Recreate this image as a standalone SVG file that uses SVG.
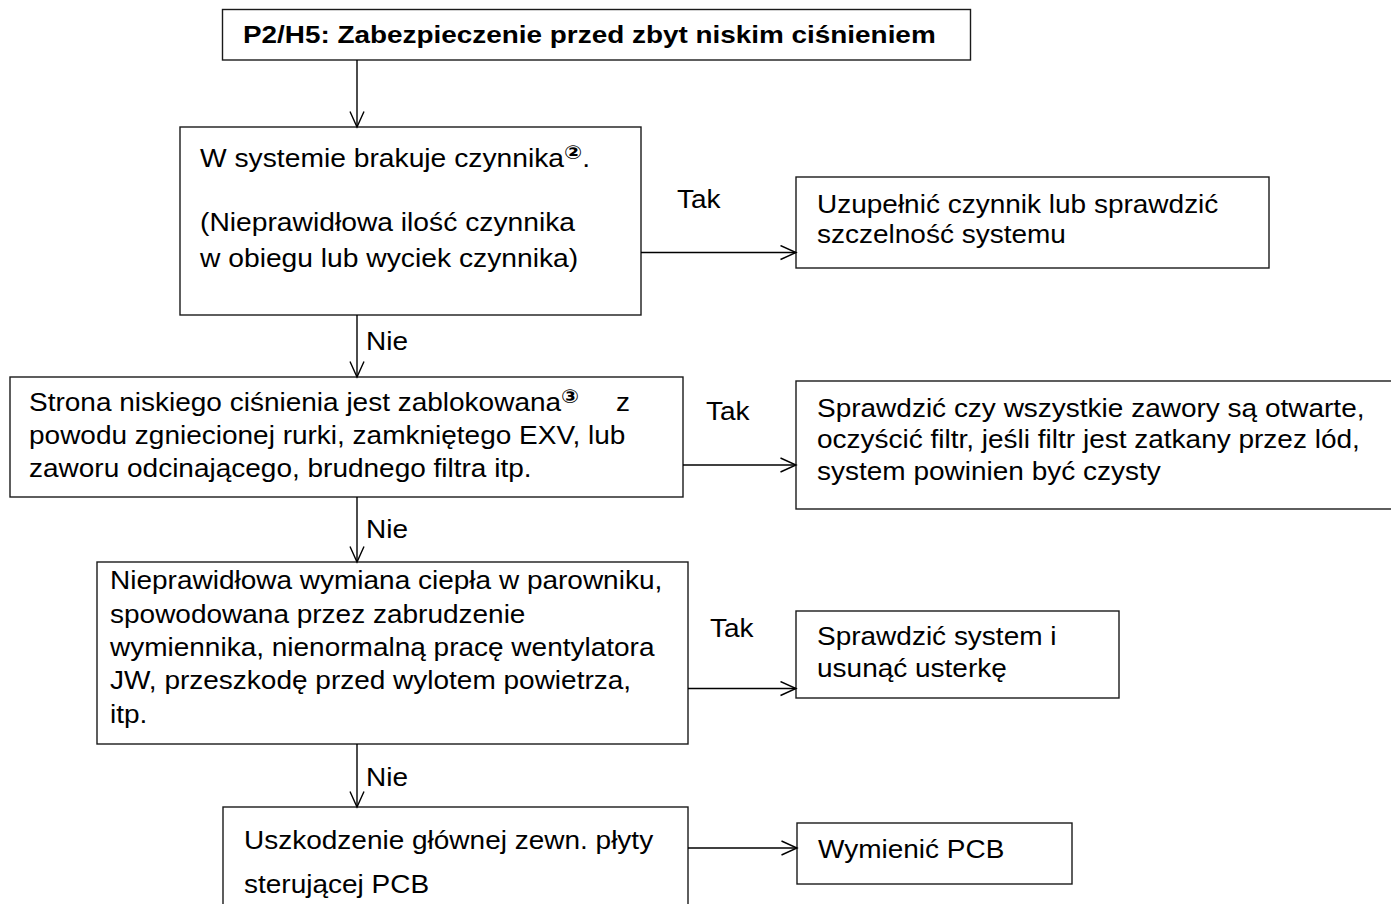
<svg xmlns="http://www.w3.org/2000/svg" width="1391" height="904" viewBox="0 0 1391 904">
<style>
.box{fill:#fff;stroke:#1a1a1a;stroke-width:1.4}
.t{font-family:"Liberation Sans",Arial,sans-serif;font-size:25px;fill:#000}
.title{font-weight:bold;font-size:23.5px}
.sup{font-family:"DejaVu Sans","Noto Sans CJK SC",sans-serif;font-size:19px;font-weight:bold}
.conn path{fill:none;stroke:#000;stroke-width:1.4;marker-end:url(#arr)}
</style>
<defs>
<marker id="arr" markerUnits="userSpaceOnUse" viewBox="0 0 18 16" refX="16.5" refY="8" markerWidth="18" markerHeight="16" orient="auto">
<path d="M1,1 L16.5,8 L1,15" fill="none" stroke="#000" stroke-width="1.4"/>
</marker>
</defs>
<rect width="1391" height="904" fill="#fff"/>

<g id="title">
<rect class="box" x="222.5" y="9.5" width="748" height="50.5"/>
<text class="t title" transform="translate(243 0) scale(1.187 1)"><tspan x="0" y="43">P2/H5: Zabezpieczenie przed zbyt niskim ciśnieniem</tspan></text>
</g>

<g id="box1">
<rect class="box" x="180" y="127" width="461" height="188"/>
<text class="t" transform="translate(200 0) scale(1.13 1)">
<tspan x="0" y="167">W systemie brakuje czynnika<tspan class="sup" dy="-8">②</tspan><tspan dy="8">.</tspan></tspan>
<tspan x="0" y="231">(Nieprawidłowa ilość czynnika</tspan>
<tspan x="0" y="267">w obiegu lub wyciek czynnika)</tspan>
</text>
</g>

<g id="box1yes">
<rect class="box" x="796" y="177" width="473" height="91"/>
<text class="t" transform="translate(817 0) scale(1.12 1)">
<tspan x="0" y="213">Uzupełnić czynnik lub sprawdzić</tspan>
<tspan x="0" y="243">szczelność systemu</tspan>
</text>
</g>

<g id="box2">
<rect class="box" x="10" y="377" width="673" height="120"/>
<text class="t" transform="translate(29 0) scale(1.12 1)">
<tspan x="0" y="411">Strona niskiego ciśnienia jest zablokowana<tspan class="sup" dy="-8">③</tspan><tspan x="524" dy="8">z</tspan></tspan>
<tspan x="0" y="444">powodu zgniecionej rurki, zamkniętego EXV, lub</tspan>
<tspan x="0" y="477">zaworu odcinającego, brudnego filtra itp.</tspan>
</text>
</g>

<g id="box2yes">
<rect class="box" x="796" y="381" width="600" height="128"/>
<text class="t" transform="translate(817 0) scale(1.12 1)">
<tspan x="0" y="417">Sprawdzić czy wszystkie zawory są otwarte,</tspan>
<tspan x="0" y="448.5">oczyścić filtr, jeśli filtr jest zatkany przez lód,</tspan>
<tspan x="0" y="480">system powinien być czysty</tspan>
</text>
</g>

<g id="box3">
<rect class="box" x="97" y="562" width="591" height="182"/>
<text class="t" transform="translate(110 0) scale(1.12 1)">
<tspan x="0" y="589">Nieprawidłowa wymiana ciepła w parowniku,</tspan>
<tspan x="0" y="622.5">spowodowana przez zabrudzenie</tspan>
<tspan x="0" y="656">wymiennika, nienormalną pracę wentylatora</tspan>
<tspan x="0" y="689.5">JW, przeszkodę przed wylotem powietrza,</tspan>
<tspan x="0" y="723">itp.</tspan>
</text>
</g>

<g id="box3yes">
<rect class="box" x="796" y="611" width="323" height="87"/>
<text class="t" transform="translate(817 0) scale(1.12 1)">
<tspan x="0" y="645">Sprawdzić system i</tspan>
<tspan x="0" y="677">usunąć usterkę</tspan>
</text>
</g>

<g id="box4">
<rect class="box" x="223" y="807" width="465" height="120"/>
<text class="t" transform="translate(244 0) scale(1.12 1)">
<tspan x="0" y="849">Uszkodzenie głównej zewn. płyty</tspan>
<tspan x="0" y="893">sterującej PCB</tspan>
</text>
</g>

<g id="box4yes">
<rect class="box" x="797" y="823" width="275" height="61"/>
<text class="t" transform="translate(818 0) scale(1.12 1)"><tspan x="0" y="858">Wymienić PCB</tspan></text>
</g>

<g id="connectors" class="conn">
<path d="M357,60 V127"/>
<path d="M357,315 V377"/>
<path d="M357,497 V562"/>
<path d="M357,744 V807"/>
<path d="M641,252.5 H796"/>
<path d="M683,465 H796"/>
<path d="M688,688.5 H796"/>
<path d="M688,848 H797"/>
</g>

<g id="labels">
<text class="t" transform="translate(677 0) scale(1.12 1)"><tspan x="0" y="208">Tak</tspan></text>
<text class="t" transform="translate(706 0) scale(1.12 1)"><tspan x="0" y="420">Tak</tspan></text>
<text class="t" transform="translate(710 0) scale(1.12 1)"><tspan x="0" y="637">Tak</tspan></text>
<text class="t" transform="translate(366 0) scale(1.12 1)"><tspan x="0" y="350">Nie</tspan></text>
<text class="t" transform="translate(366 0) scale(1.12 1)"><tspan x="0" y="538">Nie</tspan></text>
<text class="t" transform="translate(366 0) scale(1.12 1)"><tspan x="0" y="786">Nie</tspan></text>
</g>
</svg>
